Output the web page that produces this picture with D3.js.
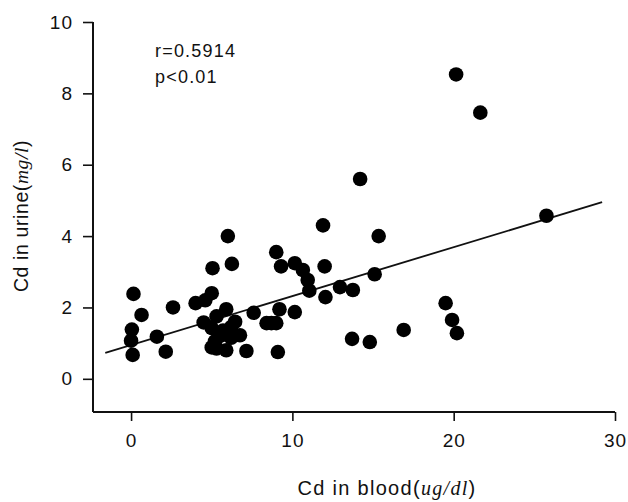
<!DOCTYPE html>
<html>
<head>
<meta charset="utf-8">
<script src="https://cdn.jsdelivr.net/npm/d3@7.9.0/dist/d3.min.js"></script>
<style>
  body { margin: 0; background: #fff; }
  svg text { font-family: "Liberation Sans", Arial, sans-serif; fill: #111; }
</style>
</head>
<body>
<svg id="chart" width="628" height="502"></svg>
<script>
// Cd in blood (ug/dl) and Cd in urine (mg/l)
const bloodCd = [
  0.15, 0.05, 0.0, 0.1, 0.65, 1.6, 2.15, 2.6,
  4.0, 4.6, 5.0, 5.05, 6.0, 6.25,
  4.5, 5.3, 5.9, 6.45, 5.0, 5.7, 6.75, 5.2, 5.0, 5.3, 5.9, 6.2, 5.5, 6.2,
  7.15, 7.6, 8.4, 8.7, 9.0, 9.2, 9.1,
  9.0, 9.3, 10.15, 10.65, 10.95, 11.05, 10.15,
  11.9, 12.0, 12.05, 12.95, 13.75, 13.7, 14.8, 14.2, 15.35, 15.1,
  16.9, 19.5, 19.9, 20.2, 20.15, 21.65, 25.75
];
const urineCd = [
  2.38, 1.38, 1.07, 0.67, 1.79, 1.18, 0.76, 2.0,
  2.12, 2.2, 2.4, 3.1, 4.0, 3.22,
  1.58, 1.75, 1.95, 1.6, 1.42, 1.35, 1.22, 1.05, 0.88, 0.85, 0.8, 1.45, 1.2, 1.15,
  0.78, 1.85, 1.56, 1.56, 1.56, 1.95, 0.75,
  3.55, 3.15, 3.24, 3.05, 2.77, 2.47, 1.87,
  4.3, 3.15, 2.29, 2.57, 2.49, 1.12, 1.03, 5.6, 4.0, 2.93,
  1.37, 2.12, 1.65, 1.28, 8.53, 7.46, 4.57
];

// regression line end points
const fitX = [-1.6, 29.2];
const fitY = [0.73, 4.95];

const xTicks = [0, 10, 20, 30];
const yTicks = [0, 2, 4, 6, 8, 10];
const statLines = ['r=0.5914', 'p<0.01'];

const svg = d3.select('#chart');

const x = d3.scaleLinear().domain([-2.36, 30]).range([93, 615]);
const y = d3.scaleLinear().domain([-0.93, 10]).range([412, 22]);

// y axis
const yAxis = svg.append('g')
  .attr('transform', 'translate(93,0)')
  .call(d3.axisLeft(y).tickValues(yTicks).tickSize(10).tickPadding(10).tickFormat(d3.format('d')));
yAxis.select('.domain').attr('d', `M0,${y(10)}V412`).attr('stroke-width', 2);

// x axis
const xAxis = svg.append('g')
  .attr('transform', 'translate(0,412)')
  .call(d3.axisBottom(x).tickValues(xTicks).tickSize(9).tickPadding(13).tickFormat(d3.format('d')));
xAxis.select('.domain').attr('d', `M93,0H${x(30)}`).attr('stroke-width', 2);

svg.selectAll('.tick line').attr('stroke', '#111').attr('stroke-width', 1.6);
svg.selectAll('.tick text')
  .style('font-size', '19px')
  .style('letter-spacing', '1px')
  .attr('fill', '#111');
svg.selectAll('.domain').attr('stroke', '#111');

// regression line
svg.append('line')
  .attr('x1', x(fitX[0])).attr('y1', y(fitY[0]))
  .attr('x2', x(fitX[1])).attr('y2', y(fitY[1]))
  .attr('stroke', '#111')
  .attr('stroke-width', 1.8);

// points
svg.append('g')
  .selectAll('circle')
  .data(bloodCd)
  .join('circle')
  .attr('cx', d => x(d))
  .attr('cy', (d, i) => y(urineCd[i]))
  .attr('r', 7.3)
  .attr('fill', '#000');

// r and p
svg.append('g')
  .selectAll('text')
  .data(statLines)
  .join('text')
  .attr('x', 155)
  .attr('y', (d, i) => 57 + i * 26)
  .style('font-size', '18px')
  .style('letter-spacing', '1.2px')
  .text(d => d);

// axis titles
const xTitle = svg.append('text')
  .attr('x', 387)
  .attr('y', 495)
  .attr('text-anchor', 'middle')
  .style('font-size', '20px')
  .style('letter-spacing', '1.3px');
xTitle.append('tspan').text('Cd in blood(');
xTitle.append('tspan').style('font-family', '"Liberation Serif", serif').style('font-style', 'italic').text('ug/dl');
xTitle.append('tspan').text(')');

const yTitle = svg.append('text')
  .attr('transform', 'translate(28,216) rotate(-90)')
  .attr('text-anchor', 'middle')
  .style('font-size', '19.5px')
  .style('letter-spacing', '0.6px');
yTitle.append('tspan').text('Cd in urine(');
yTitle.append('tspan').style('font-family', '"Liberation Serif", serif').style('font-style', 'italic').text('mg/l');
yTitle.append('tspan').text(')');
</script>
</body>
</html>
